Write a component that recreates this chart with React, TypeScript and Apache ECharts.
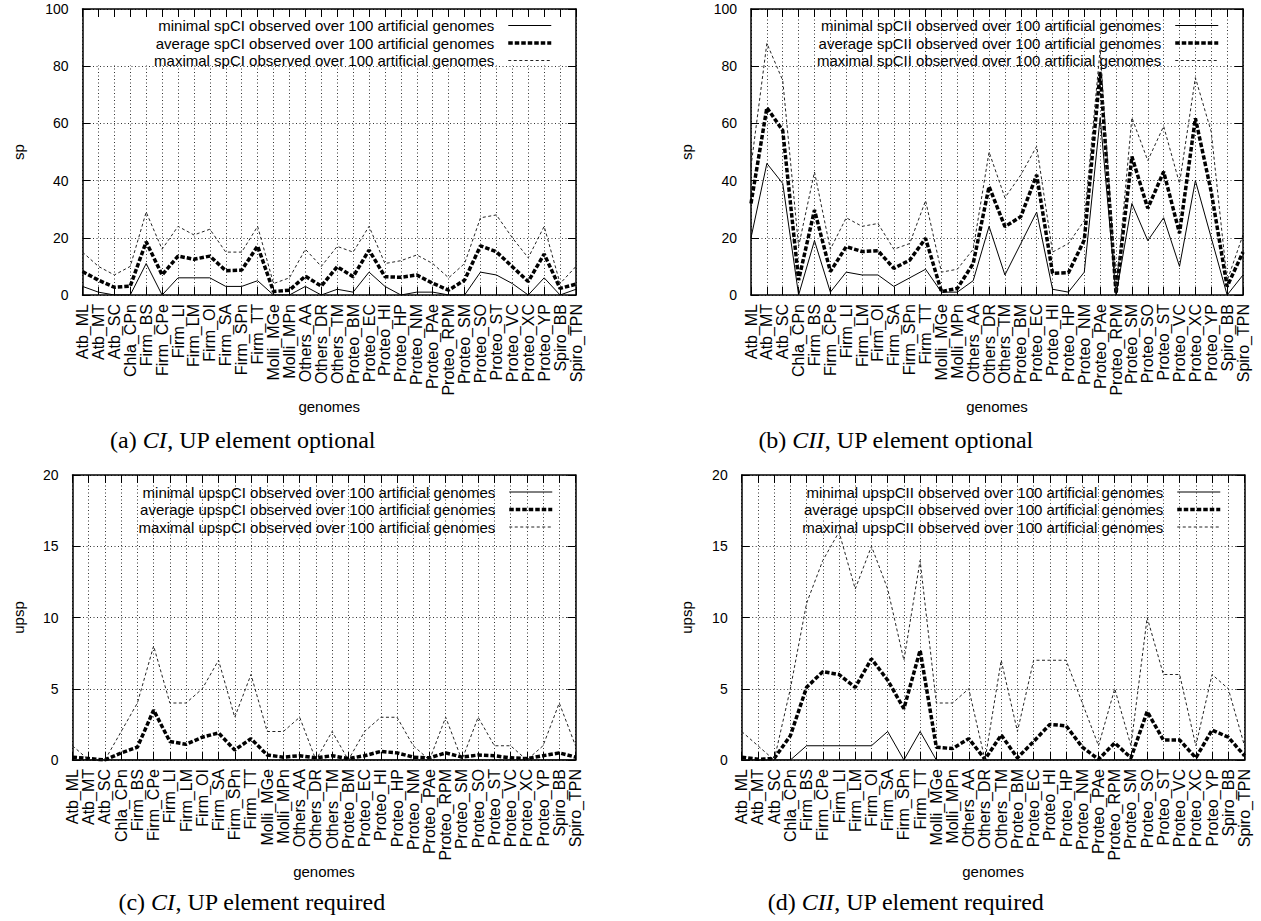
import React, { useEffect, useRef } from 'react';
import * as echarts from 'echarts';

const genomes = ['Atb_ML','Atb_MT','Atb_SC','Chla_CPn','Firm_BS','Firm_CPe','Firm_LI','Firm_LM','Firm_OI','Firm_SA','Firm_SPn','Firm_TT','Molli_MGe','Molli_MPn','Others_AA','Others_DR','Others_TM','Proteo_BM','Proteo_EC','Proteo_HI','Proteo_HP','Proteo_NM','Proteo_PAe','Proteo_RPM','Proteo_SM','Proteo_SO','Proteo_ST','Proteo_VC','Proteo_XC','Proteo_YP','Spiro_BB','Spiro_TPN'];

// (a) spCI, UP element optional
const spCIMin = [3,1,0,0,11,0,6,6,6,3,3,5,0,0,3,0,2,1,8,3,0,1,1,0,0,8,7,4,0,6,0,2];
const spCIAvg = [8.2,5.2,2.7,3.1,18.6,7.0,13.6,12.5,13.6,8.5,8.7,17.1,1.2,1.7,6.6,3.1,9.9,6.4,15.7,6.4,6.2,7.0,4.1,1.7,5.2,17.2,15.1,9.9,4.7,14.3,2.3,3.8];
const spCIMax = [15,10,7,10,29,16,24,21,23,15,15,24,4,6,16,10,17,15,24,11,12,14,11,6,11,27,28,20,13,24,4,10];

// (b) spCII, UP element optional
const spCIIMin = [20,46,39,0,19,1,8,7,7,3,6,9,1,1,5,24,7,18,29,2,1,8,62,0,32,19,27,10,40,20,0,7];
const spCIIAvg = [32,65.5,57.5,5.2,29.7,8.2,16.9,15.2,15.5,9.3,12.2,19.8,1.2,2.3,11,37.9,23.9,27.4,42,7.6,7.8,19.2,78,0.5,48.4,30.3,43.1,21.6,61.8,36,3,15];
const spCIIMax = [45,88,75,17,43,16,27,24,25,16,18,33,8,9,16,50,34,42,52,15,18,26,86,1,62,47,59,39,76,57,5,21];

// (c) upspCI, UP element required
const upspCIMin = [0,0,0,0,0,0,0,0,0,0,0,0,0,0,0,0,0,0,0,0,0,0,0,0,0,0,0,0,0,0,0,0];
const upspCIAvg = [0.2,0.1,0,0.5,0.9,3.5,1.3,1.1,1.6,1.9,0.7,1.5,0.35,0.2,0.3,0.15,0.3,0.1,0.3,0.6,0.5,0.2,0.15,0.5,0.2,0.35,0.3,0.15,0.1,0.3,0.5,0.2];
const upspCIMax = [1,0,0,2,4,8,4,4,5,7,3,6,2,2,3,0,2,0,2,3,3,1,0,3,0,3,1,1,0,1,4,1];

// (d) upspCII, UP element required
const upspCIIMin = [0,0,0,0,1,1,1,1,1,2,0,2,0,0,0,0,0,0,0,0,0,0,0,0,0,0,0,0,0,0,0,0];
const upspCIIAvg = [0.2,0.05,0.1,1.7,5.1,6.2,6.0,5.1,7.1,5.6,3.6,7.7,0.9,0.8,1.5,0.05,1.75,0.15,1.3,2.5,2.4,0.9,0.05,1.2,0.15,3.4,1.4,1.4,0.15,2.1,1.6,0.3];
const upspCIIMax = [2,1,0,5,11,14,16,12,15,12,7,14,4,4,5,0,7,2,7,7,7,4,1,5,1,10,6,6,1,6,5,1];

const measures = ['sp', 'sp', 'upsp', 'upsp'];
const setNames = ['spCI', 'spCII', 'upspCI', 'upspCII'];
const yMaxes = [100, 100, 20, 20];
const yIntervals = [20, 20, 5, 5];
const captions = ['(a) {i|CI}, UP element optional', '(b) {i|CII}, UP element optional', '(c) {i|CI}, UP element required', '(d) {i|CII}, UP element required'];
const panelData = [
  [spCIMin, spCIAvg, spCIMax],
  [spCIIMin, spCIIAvg, spCIIMax],
  [upspCIMin, upspCIAvg, upspCIMax],
  [upspCIIMin, upspCIIAvg, upspCIIMax],
];

// layout (pixels)
const layout = [
  { left: 82.5, top: 9, width: 493.5, height: 286, legendRight: 708, legendTop: 18, yGap: 57, xGap: 104, capX: 243, capY: 440 },
  { left: 751, top: 9, width: 492, height: 286, legendRight: 41, legendTop: 18, yGap: 57, xGap: 104, capX: 896, capY: 440 },
  { left: 72.5, top: 475, width: 503, height: 285, legendRight: 707, legendTop: 484.5, yGap: 47, xGap: 102, capX: 252, capY: 902 },
  { left: 741.7, top: 475, width: 502.8, height: 285, legendRight: 39, legendTop: 484.5, yGap: 48, xGap: 102, capX: 906, capY: 902 },
];

const SANS = '"Liberation Sans", Arial, Helvetica, sans-serif';
const SERIF = '"Liberation Serif", "DejaVu Serif", serif';
const CAP_SIZE = 24;
const gridLine = { show: true, lineStyle: { color: '#333', width: 1, type: [1, 2.5] as number[] } };
const axisLine = { show: true, onZero: false, lineStyle: { color: '#000', width: 1.5 } };
const axisTick = { show: true, inside: true, length: 8, lineStyle: { color: '#000', width: 1 } };

const kinds = ['minimal', 'average', 'maximal'];
const lineStyles = [
  { color: '#000', width: 1, type: 'solid' as any },
  { color: '#000', width: 3.5, type: [4.5, 2] as any },
  { color: '#222', width: 1, type: [3, 2.5] as any },
];

function buildOption() {
  const grid: any[] = [];
  const xAxis: any[] = [];
  const yAxis: any[] = [];
  const series: any[] = [];
  const legend: any[] = [];
  const graphic: any[] = [];

  layout.forEach((L, k) => {
    grid.push({ left: L.left, top: L.top, width: L.width, height: L.height, containLabel: false });
    xAxis.push({
      gridIndex: k, type: 'category', data: genomes, boundaryGap: false, position: 'bottom',
      axisLine, axisTick: { ...axisTick, interval: 0 },
      axisLabel: { interval: 0, rotate: 90, fontSize: 16, color: '#000', fontFamily: SANS, margin: 9 },
      splitLine: { ...gridLine, interval: 0 },
      name: 'genomes', nameLocation: 'middle', nameGap: L.xGap,
      nameTextStyle: { fontSize: 15, color: '#000', fontFamily: SANS },
    });
    xAxis.push({
      gridIndex: k, type: 'category', data: genomes, boundaryGap: false, position: 'top', z: 3,
      axisLine, axisTick: { ...axisTick, interval: 0 }, axisLabel: { show: false }, splitLine: { show: false },
    });
    yAxis.push({
      gridIndex: k, type: 'value', min: 0, max: yMaxes[k], interval: yIntervals[k], position: 'left',
      axisLine, axisTick,
      axisLabel: { fontSize: 14, color: '#000', fontFamily: SANS, margin: 14 },
      splitLine: gridLine,
      name: measures[k], nameLocation: 'middle', nameGap: L.yGap, nameRotate: 90,
      nameTextStyle: { fontSize: 15, color: '#000', fontFamily: SANS },
    });
    yAxis.push({
      gridIndex: k, type: 'value', min: 0, max: yMaxes[k], interval: yIntervals[k], position: 'right', z: 3,
      axisLine, axisTick, axisLabel: { show: false }, splitLine: { show: false },
    });
    const names: string[] = [];
    panelData[k].forEach((values, j) => {
      const name = `${kinds[j]} ${setNames[k]} observed over 100 artificial genomes`;
      names.push(name);
      series.push({
        type: 'line', name, xAxisIndex: 2 * k, yAxisIndex: 2 * k, data: values,
        symbol: 'none', silent: true, z: 2, lineStyle: lineStyles[j],
        itemStyle: { color: '#000' },
      });
    });
    legend.push({
      data: names, orient: 'vertical', right: L.legendRight, top: L.legendTop, align: 'right',
      itemWidth: 43, itemHeight: 14, itemGap: 2.5, selectedMode: false, padding: 0,
      lineStyle: { width: 'inherit', type: 'inherit', color: 'inherit' },
      itemStyle: { color: 'rgba(0,0,0,0)', borderWidth: 0, opacity: 0 },
      textStyle: { fontSize: 15, color: '#000', fontFamily: SANS, padding: [0, 9, 0, 0] },
    });
    graphic.push({
      type: 'text', x: L.capX, y: L.capY, z: 5, silent: true,
      style: {
        text: captions[k], fontSize: CAP_SIZE, fontFamily: SERIF, fill: '#000', align: 'center', verticalAlign: 'middle',
        rich: { i: { fontStyle: 'italic', fontSize: CAP_SIZE, fontFamily: SERIF } },
      },
    });
  });

  // opaque key area of panel (a)
  graphic.push({
    type: 'rect', z: 1, silent: true,
    shape: { x: layout[0].left + 1.5, y: 10, width: layout[0].width - 3, height: 55.5 },
    style: { fill: '#fff' },
  });

  return { animation: false, backgroundColor: '#fff', grid, xAxis, yAxis, series, legend, graphic };
}

export default function App() {
  const ref = useRef<HTMLDivElement>(null);
  useEffect(() => {
    const chart = echarts.init(ref.current!, null, { renderer: 'svg' });
    chart.setOption(buildOption() as any);
    return () => chart.dispose();
  }, []);
  return <div ref={ref} style={{ position: 'fixed', left: 0, top: 0, width: 1261, height: 921, background: '#fff' }} />;
}
